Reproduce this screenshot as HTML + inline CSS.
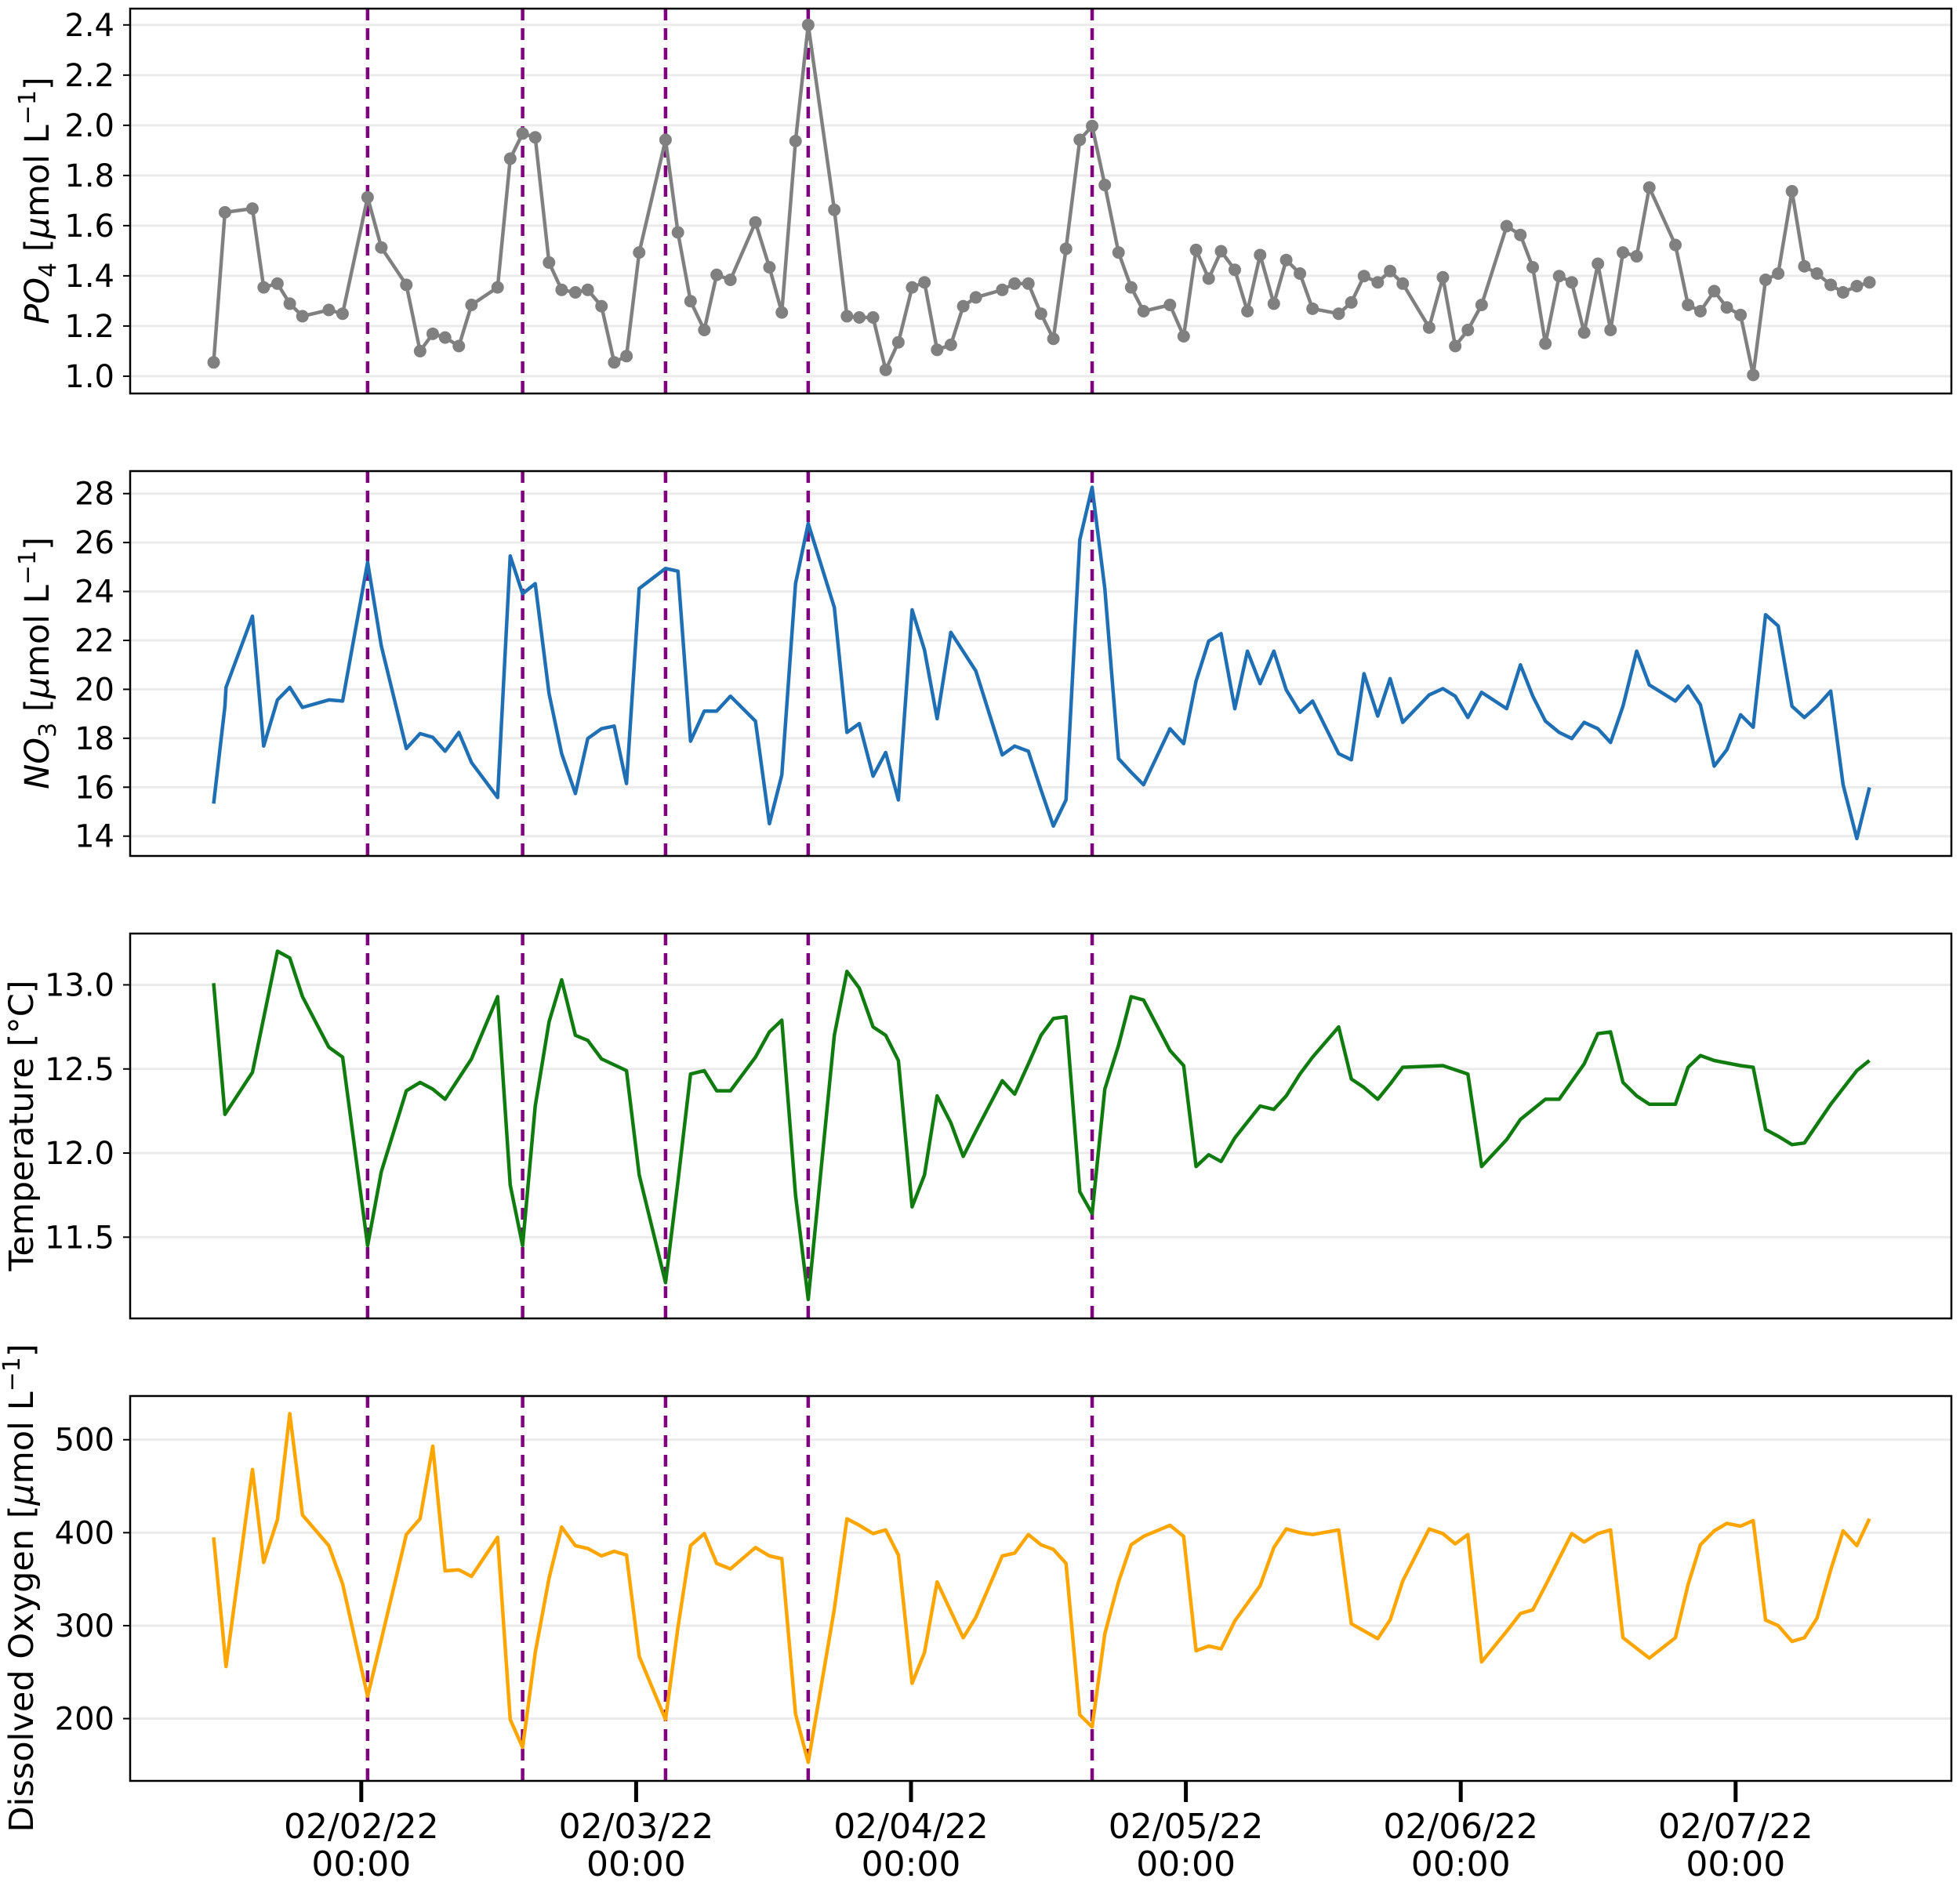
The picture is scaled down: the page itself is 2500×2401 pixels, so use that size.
<!DOCTYPE html>
<html><head><meta charset="utf-8"><style>
html,body{margin:0;padding:0;background:#fff}
svg{display:block}
text{font-family:"DejaVu Sans","Liberation Sans",sans-serif;fill:#000}
</style></head><body>
<svg id="chart" width="2500" height="2401" viewBox="0 0 2500 2401" xmlns="http://www.w3.org/2000/svg"></svg>
<script>
// days since 02/02/22 00:00
const tAll = [-0.537,-0.496,-0.396,-0.355,-0.305,-0.260,-0.214,-0.118,-0.068,0.023,0.073,0.164,0.214,0.260,0.305,0.355,0.401,0.496,0.542,0.587,0.633,0.683,0.729,0.779,0.824,0.874,0.920,0.965,1.011,1.107,1.152,1.198,1.248,1.293,1.343,1.434,1.485,1.530,1.580,1.626,1.721,1.767,1.812,1.862,1.908,1.954,2.004,2.049,2.095,2.145,2.190,2.236,2.332,2.377,2.427,2.473,2.518,2.564,2.614,2.659,2.705,2.755,2.801,2.846,2.942,2.992,3.037,3.083,3.128,3.178,3.224,3.270,3.320,3.365,3.415,3.461,3.556,3.602,3.648,3.698,3.743,3.789,3.885,3.935,3.980,4.026,4.076,4.167,4.217,4.262,4.308,4.358,4.404,4.449,4.499,4.545,4.590,4.640,4.686,4.781,4.827,4.872,4.922,4.968,5.018,5.064,5.109,5.155,5.205,5.250,5.296,5.346,5.391,5.441,5.487];
const po4Values = [1.055,1.653,1.668,1.354,1.369,1.289,1.239,1.264,1.249,1.713,1.513,1.364,1.10,1.169,1.154,1.12,1.284,1.354,1.867,1.967,1.952,1.453,1.344,1.334,1.344,1.279,1.055,1.08,1.493,1.942,1.573,1.299,1.184,1.404,1.384,1.613,1.434,1.254,1.937,2.40,1.663,1.239,1.234,1.234,1.025,1.135,1.354,1.374,1.105,1.125,1.279,1.314,1.344,1.369,1.369,1.249,1.149,1.508,1.942,1.997,1.762,1.493,1.354,1.259,1.284,1.159,1.503,1.389,1.498,1.424,1.259,1.483,1.289,1.463,1.409,1.269,1.249,1.294,1.399,1.374,1.419,1.369,1.194,1.394,1.12,1.184,1.284,1.598,1.563,1.434,1.130,1.399,1.374,1.174,1.448,1.184,1.493,1.478,1.752,1.523,1.284,1.259,1.339,1.274,1.244,1.005,1.384,1.409,1.737,1.438,1.409,1.364,1.334,1.359,1.374];

const no3Times = [-0.537,-0.496,-0.492,-0.396,-0.355,-0.305,-0.260,-0.214,-0.118,-0.068,0.023,0.073,0.164,0.214,0.260,0.305,0.355,0.401,0.496,0.542,0.587,0.633,0.683,0.729,0.779,0.824,0.874,0.920,0.965,1.011,1.107,1.152,1.198,1.248,1.293,1.343,1.434,1.485,1.530,1.580,1.626,1.721,1.767,1.812,1.862,1.908,1.954,2.004,2.049,2.095,2.145,2.236,2.332,2.377,2.427,2.473,2.518,2.564,2.614,2.659,2.705,2.755,2.801,2.846,2.942,2.992,3.037,3.083,3.128,3.178,3.224,3.270,3.320,3.365,3.415,3.461,3.556,3.602,3.648,3.698,3.743,3.789,3.885,3.935,3.980,4.026,4.076,4.167,4.217,4.262,4.308,4.358,4.404,4.449,4.499,4.545,4.590,4.640,4.686,4.781,4.827,4.872,4.922,4.968,5.018,5.064,5.109,5.155,5.205,5.250,5.296,5.346,5.391,5.441,5.487];
const no3Values = [15.33,19.31,20.08,22.99,17.68,19.57,20.08,19.26,19.57,19.52,25.19,21.77,17.58,18.19,18.04,17.47,18.24,17.01,15.58,25.45,23.91,24.32,19.83,17.37,15.74,17.99,18.39,18.50,16.15,24.12,24.94,24.83,17.88,19.11,19.11,19.72,18.70,14.51,16.50,24.32,26.78,23.35,18.24,18.60,16.45,17.42,15.48,23.25,21.61,18.80,22.33,20.75,17.32,17.68,17.47,15.89,14.41,15.48,26.11,28.26,24.12,17.17,16.61,16.10,18.39,17.78,20.34,21.97,22.28,19.21,21.56,20.23,21.56,19.98,19.06,19.52,17.37,17.12,20.64,18.91,20.44,18.65,19.77,20.03,19.72,18.85,19.88,19.21,21.00,19.72,18.70,18.24,17.99,18.65,18.39,17.83,19.31,21.56,20.18,19.52,20.13,19.37,16.86,17.53,18.96,18.45,23.05,22.59,19.31,18.85,19.31,19.93,16.10,13.90,15.99];

const tempTimes = [-0.537,-0.496,-0.396,-0.305,-0.260,-0.214,-0.118,-0.068,0.023,0.073,0.164,0.214,0.260,0.305,0.401,0.496,0.542,0.587,0.633,0.683,0.729,0.779,0.824,0.874,0.965,1.011,1.107,1.152,1.198,1.248,1.293,1.343,1.434,1.485,1.530,1.580,1.626,1.721,1.767,1.812,1.862,1.908,1.954,2.004,2.049,2.095,2.145,2.190,2.236,2.332,2.377,2.427,2.473,2.518,2.564,2.614,2.659,2.705,2.755,2.801,2.846,2.942,2.992,3.037,3.083,3.128,3.178,3.270,3.320,3.365,3.415,3.461,3.556,3.602,3.648,3.698,3.743,3.789,3.935,4.026,4.076,4.167,4.217,4.308,4.358,4.449,4.499,4.545,4.590,4.640,4.686,4.781,4.827,4.872,4.922,5.018,5.064,5.109,5.155,5.205,5.250,5.346,5.441,5.487];
const tempValues = [13.01,12.23,12.48,13.20,13.16,12.93,12.63,12.57,11.45,11.89,12.37,12.42,12.38,12.32,12.56,12.93,11.81,11.45,12.28,12.78,13.03,12.70,12.67,12.56,12.49,11.87,11.23,11.83,12.47,12.49,12.37,12.37,12.57,12.72,12.79,11.75,11.13,12.70,13.08,12.98,12.75,12.70,12.55,11.68,11.87,12.34,12.18,11.98,12.13,12.43,12.35,12.53,12.70,12.80,12.81,11.77,11.64,12.38,12.64,12.93,12.91,12.61,12.52,11.92,11.99,11.95,12.09,12.28,12.26,12.34,12.47,12.57,12.75,12.44,12.39,12.32,12.41,12.51,12.52,12.47,11.92,12.08,12.20,12.32,12.32,12.53,12.71,12.72,12.42,12.34,12.29,12.29,12.51,12.58,12.55,12.52,12.51,12.14,12.10,12.05,12.06,12.29,12.49,12.55];

const doTimes = [-0.537,-0.492,-0.396,-0.355,-0.305,-0.260,-0.214,-0.118,-0.068,0.023,0.073,0.164,0.214,0.260,0.305,0.355,0.401,0.496,0.542,0.587,0.633,0.683,0.729,0.779,0.824,0.874,0.920,0.965,1.011,1.107,1.152,1.198,1.248,1.293,1.343,1.434,1.485,1.530,1.580,1.626,1.721,1.767,1.812,1.862,1.908,1.954,2.004,2.049,2.095,2.190,2.236,2.332,2.377,2.427,2.473,2.518,2.564,2.614,2.659,2.705,2.755,2.801,2.846,2.942,2.992,3.037,3.083,3.128,3.178,3.270,3.320,3.365,3.415,3.461,3.556,3.602,3.698,3.743,3.789,3.885,3.935,3.980,4.026,4.076,4.167,4.217,4.262,4.308,4.404,4.449,4.499,4.545,4.590,4.686,4.781,4.827,4.872,4.922,4.968,5.018,5.064,5.109,5.155,5.205,5.250,5.296,5.346,5.391,5.441,5.487];
const doValues = [395,256,468,368,414,528,419,386,345,224,285,398,415,493,359,360,353,395,199,169,271,351,406,386,383,375,380,376,267,199,298,386,399,367,361,384,375,372,205,153,318,415,408,399,403,376,238,271,347,287,309,375,378,398,387,382,367,204,191,291,347,387,396,408,396,273,278,275,305,343,384,404,400,398,403,302,286,306,348,404,399,388,398,261,294,313,317,343,399,390,399,403,287,265,287,344,387,402,410,407,413,306,300,283,287,308,360,402,386,415];

const eventDays = [0.023,0.587,1.107,1.626,2.659];
const dateTicks = [0,1,2,3,4,5];
const dateLabels = ["02/02/22","02/03/22","02/04/22","02/05/22","02/06/22","02/07/22"];
const po4Ticks = [1.0,1.2,1.4,1.6,1.8,2.0,2.2,2.4];
const no3Ticks = [14,16,18,20,22,24,26,28];
const tempTicks = [11.5,12.0,12.5,13.0];
const doTicks = [200,300,400,500];

const NS="http://www.w3.org/2000/svg";
const svg=document.getElementById('chart');
const AX_L=166, AX_R=2489;
const xScale=d=>460.8+d*350.6;
function el(tag,attrs,parent){const e=document.createElementNS(NS,tag);for(const k in attrs)e.setAttribute(k,attrs[k]);(parent||svg).appendChild(e);return e;}

const panels=[
 {name:'po4',top:11,bot:502,vTop:2.465,vBot:0.931,ticks:po4Ticks,fmt:v=>v.toFixed(1),t:tAll,v:po4Values,color:'#808080',markers:true},
 {name:'no3',top:601,bot:1092,vTop:28.92,vBot:13.19,ticks:no3Ticks,fmt:v=>String(v),t:no3Times,v:no3Values,color:'#1f6fb4'},
 {name:'temperature',top:1191,bot:1682,vTop:13.305,vBot:11.017,ticks:tempTicks,fmt:v=>v.toFixed(1),t:tempTimes,v:tempValues,color:'#107c10'},
 {name:'dissolved-oxygen',top:1781,bot:2272,vTop:547,vBot:133,ticks:doTicks,fmt:v=>String(v),t:doTimes,v:doValues,color:'#ffa500'}
];

panels.forEach((p,pi)=>{
  const g=el('g',{});
  
  
  const y=v=>p.top+(p.vTop-v)/(p.vTop-p.vBot)*(p.bot-p.top);
  p.ticks.forEach(tv=>{
    const yy=y(tv);
    const gl=el('line',{x1:AX_L,x2:AX_R,y1:yy,y2:yy,stroke:'#ebebeb','stroke-width':3},g);
    
    
    el('line',{x1:AX_L-9,x2:AX_L,y1:yy,y2:yy,stroke:'#000','stroke-width':2},g);
    const tl=el('text',{x:AX_L-20,y:yy+14,'text-anchor':'end','font-size':40},g);
    tl.textContent=p.fmt(tv);
    
    
  });
  eventDays.forEach(d=>{
    const x=xScale(d);
    const vl=el('line',{x1:x,x2:x,y1:p.top,y2:p.bot,stroke:'#800080','stroke-width':4.5,'stroke-dasharray':'15,10'},g);
    
    
  });
  const pts=p.t.map((t,i)=>xScale(t).toFixed(1)+','+y(p.v[i]).toFixed(1)).join(' ');
  const line=el('polyline',{points:pts,fill:'none',stroke:p.color,'stroke-width':4.5,'stroke-linejoin':'round'},g);
  
  
  if(p.markers){
    p.t.forEach((t,i)=>{
      const c=el('circle',{cx:xScale(t),cy:y(p.v[i]),r:8,fill:p.color},g);
      
      
    });
  }
  const fr=el('rect',{x:AX_L,y:p.top,width:AX_R-AX_L,height:p.bot-p.top,fill:'none',stroke:'#000','stroke-width':2.5},g);
  
  
});

dateTicks.forEach((d,i)=>{
  const x=xScale(d);
  el('line',{x1:x,x2:x,y1:2272,y2:2299,stroke:'#000','stroke-width':5});
  const t=el('text',{x:x,y:2345,'text-anchor':'middle','font-size':44});
  t.textContent=dateLabels[i];
  
  
  const t2=el('text',{x:x,y:2393,'text-anchor':'middle','font-size':44});
  t2.textContent='00:00';
  
  
});
</script>
<script>
(function(){
  const NS="http://www.w3.org/2000/svg";
  const svg=document.getElementById('chart');
  const labels=[
    {cy:256,html:'<tspan font-style="italic">PO</tspan><tspan font-size="30" dy="9">4</tspan><tspan dy="-9"> [</tspan><tspan font-style="italic">μ</tspan><tspan>mol L</tspan><tspan font-size="30" dy="-17">−1</tspan><tspan dy="17">]</tspan>',name:'po4-y-axis-title'},
    {cy:846,html:'<tspan font-style="italic">NO</tspan><tspan font-size="30" dy="9">3</tspan><tspan dy="-9"> [</tspan><tspan font-style="italic">μ</tspan><tspan>mol L</tspan><tspan font-size="30" dy="-17">−1</tspan><tspan dy="17">]</tspan>',name:'no3-y-axis-title'},
    {cy:1436,html:'Temperature [°C]',name:'temperature-y-axis-title',x:42},
    {cy:2026,html:'Dissolved Oxygen [<tspan font-style="italic">μ</tspan>mol L<tspan font-size="30" dy="-17">−1</tspan><tspan dy="17">]</tspan>',name:'do-y-axis-title',x:42}
  ];
  labels.forEach(l=>{
    const x=l.x||62;
    const t=document.createElementNS(NS,'text');
    t.setAttribute('x',0);t.setAttribute('y',0);
    t.setAttribute('font-size',43);
    t.setAttribute('text-anchor','middle');
    t.setAttribute('transform','translate('+x+','+l.cy+') rotate(-90)');
    t.innerHTML=l.html;
    
    
    svg.appendChild(t);
  });
})();
</script>
</body></html>
